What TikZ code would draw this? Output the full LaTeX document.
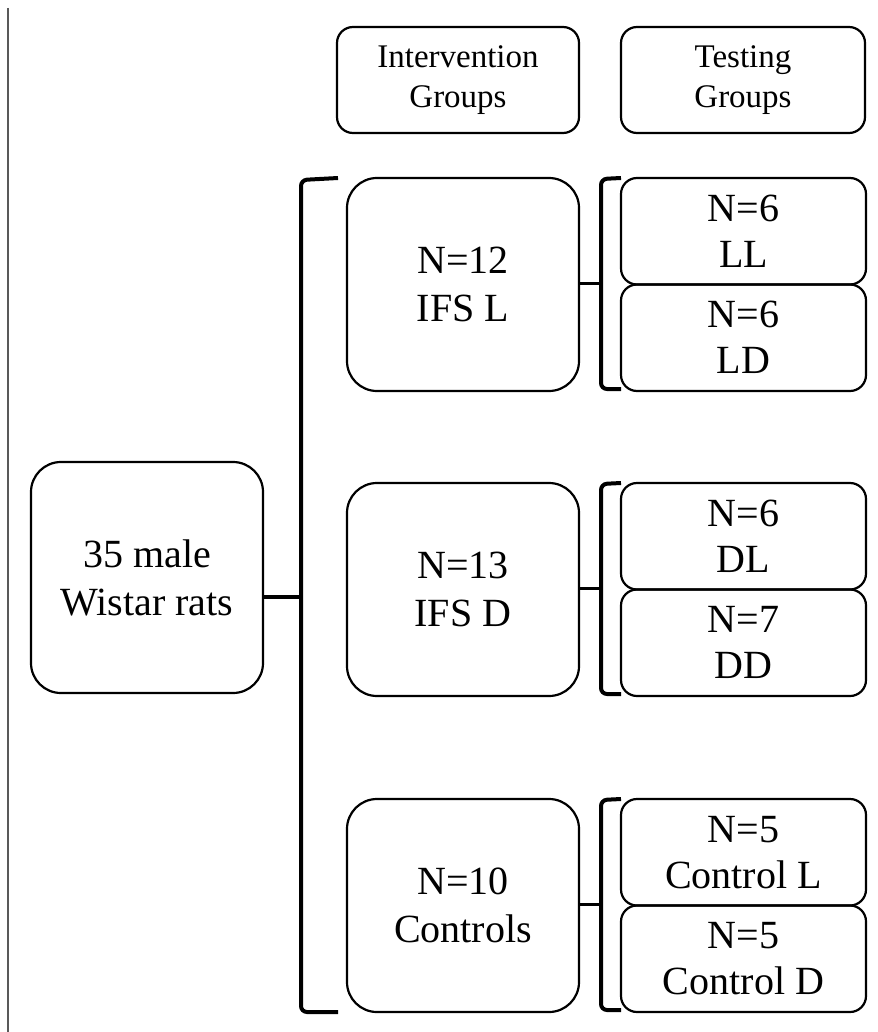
\documentclass[tikz,border=0pt]{standalone}
\usepackage{fontspec}
\setmainfont{Liberation Serif}
\tikzset{
    groupbox/.style={draw, line width=2.2pt, rounded corners=30pt, align=center,
        inner sep=0pt, minimum width=232pt, minimum height=213pt,
        font=\fontsize{40}{48}\selectfont},
    testbox/.style={draw, line width=2.2pt, rounded corners=16pt, align=center,
        inner sep=0pt, minimum width=245pt, minimum height=106.5pt,
        font=\fontsize{40}{46}\selectfont},
    headbox/.style={draw, line width=2.2pt, rounded corners=16pt, align=center,
        inner sep=0pt, minimum height=106pt,
        font=\fontsize{33}{40}\selectfont},
    bracket/.style={line width=4pt, rounded corners=6pt},
}
\begin{document}
\begin{tikzpicture}[x=1pt, y=-1pt]
                \useasboundingbox (0,0) rectangle (877,1032);
                \draw[line width=2pt, gray!70!black] (8,8) -- (8,1032);
                % headings
                \node[headbox, minimum width=242pt] (headint) at (458,80) {Intervention\\Groups};
                \node[headbox, minimum width=244pt] (headtest) at (743,80) {Testing\\Groups};
                % animals and intervention groups
                \node[groupbox, minimum height=231pt] (rats) at (147,577.5) {35 male\\Wistar rats};
                \node[groupbox] (ifsl) at (463,284.5) {N=12\\IFS L};
                \node[groupbox] (ifsd) at (463,589.5) {N=13\\IFS D};
                \node[groupbox] (ctrl) at (463,905.5) {N=10\\Controls};
                % testing groups
                \node[testbox] (ll) at (743.5,231.25) {N=6\\LL};
                \node[testbox] (ld) at (743.5,337.75) {N=6\\LD};
                \node[testbox] (dl) at (743.5,536.25) {N=6\\DL};
                \node[testbox] (dd) at (743.5,642.75) {N=7\\DD};
                \node[testbox] (cl) at (743.5,852.25) {N=5\\Control L};
                \node[testbox] (cd) at (743.5,958.75) {N=5\\Control D};
                % brackets
                \coordinate (tip0) at (301,597);
                \draw[bracket] (338,178) -- (301,180) -- (301,1012) -- (338,1012);
                \draw[line width=4pt] (rats.east |- tip0) -- (tip0);
                \foreach \grp/\ya/\yb in {ifsl/178/389, ifsd/483/694, ctrl/799/1010} {
                    \coordinate (tip-\grp) at (601,{(\ya+\yb)/2});
                    \draw[bracket] (621,\ya) -- (601,\ya+1) -- (601,\yb) -- (621,\yb);
                    \draw[line width=3.5pt] (\grp.east |- tip-\grp) -- (tip-\grp);
                }
            \end{tikzpicture}
\end{document}
